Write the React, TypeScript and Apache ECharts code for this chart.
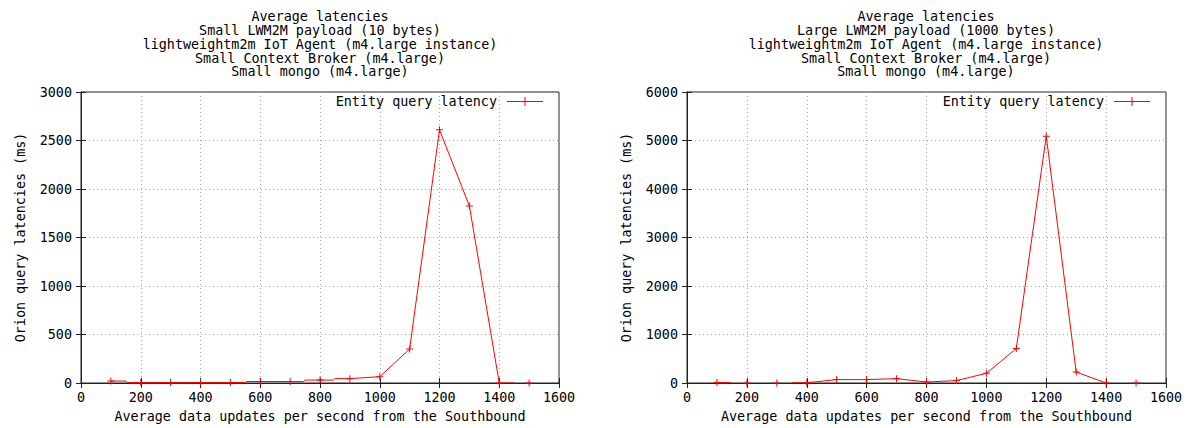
import React, { useEffect, useRef } from "react";
import * as echarts from "echarts";

const FONT = "'DejaVu Sans Mono', 'Liberation Mono', monospace";
const FONT_SIZE = 13.4;

const smallTitle = [
  "Average latencies",
  "Small LWM2M payload (10 bytes)",
  "lightweightm2m IoT Agent (m4.large instance)",
  "Small Context Broker (m4.large)",
  "Small mongo (m4.large)",
];
const largeTitle = [
  "Average latencies",
  "Large LWM2M payload (1000 bytes)",
  "lightweightm2m IoT Agent (m4.large instance)",
  "Small Context Broker (m4.large)",
  "Small mongo (m4.large)",
];

const seriesName = "Entity query latency";
const xAxisTitle = "Average data updates per second from the Southbound";
const yAxisTitle = "Orion query latencies (ms)";

// Axis ranges and tick steps
const xMin = 0;
const xMax = 1600;
const xStep = 200;
const smallYMax = 3000;
const smallYStep = 500;
const largeYMax = 6000;
const largeYStep = 1000;

// Small payload run. null breaks the line; marked points get a "+" symbol.
const smallX = [100, 150, 155, 200, 300, 400, 500, 550, 555, 600, 700, 745, 750, 800, 845, 850, 900, 1000, 1100, 1200, 1300, 1400, 1450, 1475, 1500];
const smallY = [20, 20, 5, 5, 5, 5, 5, 5, 15, 15, 15, 15, 30, 30, 30, 45, 45, 65, 350, 2610, 1825, 0, 0, null, 0];
const smallMarked = [1, 0, 0, 1, 1, 1, 1, 0, 0, 1, 1, 0, 0, 1, 0, 0, 1, 1, 1, 1, 1, 1, 0, 0, 1];

// Large payload run.
const largeX = [100, 145, 170, 200, 250, 300, 325, 350, 400, 500, 600, 700, 800, 900, 1000, 1100, 1200, 1300, 1400, 1450, 1500];
const largeY = [10, 10, null, 0, null, 0, null, 5, 5, 70, 70, 90, 20, 50, 200, 710, 5090, 225, 0, null, 0];
const largeMarked = [1, 0, 0, 1, 0, 1, 0, 0, 1, 1, 1, 1, 1, 1, 1, 1, 1, 1, 1, 0, 1];

const PLUS = "path://M0,3h7v1H0z M3,0h1v7H3z";
const LEGEND_ICON = "path://M0,4h36v1H0z M17.5,0h1v9h-1z";
const RED = "#ff0000";
const FRAME = "#222";

function toData(xs: number[], ys: (number | null)[], marked: number[]) {
  return xs.map((x, i) =>
    ys[i] === null
      ? [x, "-"]
      : { value: [x, ys[i]], symbol: marked[i] ? PLUS : "none" }
  );
}

const textStyle = { fontFamily: FONT, fontSize: FONT_SIZE, color: "#000", fontWeight: "normal" as const };
const plain = (v: number) => String(v);

function xAxes(gridIndex: number) {
  return [
    {
      type: "value",
      gridIndex,
      position: "bottom",
      min: xMin,
      max: xMax,
      interval: xStep,
      name: xAxisTitle,
      nameLocation: "middle",
      nameGap: 27,
      nameTextStyle: textStyle,
      axisLine: { show: true, lineStyle: { color: FRAME, width: 1 } },
      axisTick: { show: true, inside: true, length: 5, lineStyle: { color: FRAME } },
      axisLabel: { margin: 8, formatter: plain, ...textStyle },
      splitLine: { show: true, lineStyle: { color: "#a0a0a0", type: [1, 3], width: 1 } },
    },
    {
      type: "value",
      gridIndex,
      position: "top",
      min: xMin,
      max: xMax,
      interval: xStep,
      axisLine: { show: true, lineStyle: { color: FRAME, width: 1 } },
      axisTick: { show: true, inside: true, length: 5, lineStyle: { color: FRAME } },
      axisLabel: { show: false },
      splitLine: { show: false },
    },
  ];
}

function yAxes(gridIndex: number, yMax: number, yStep: number) {
  return [
    {
      type: "value",
      gridIndex,
      position: "left",
      min: 0,
      max: yMax,
      interval: yStep,
      name: yAxisTitle,
      nameLocation: "middle",
      nameGap: 54,
      nameTextStyle: textStyle,
      axisLine: { show: true, lineStyle: { color: FRAME, width: 1 } },
      axisTick: { show: true, inside: true, length: 5, lineStyle: { color: FRAME } },
      axisLabel: { margin: 9, formatter: plain, ...textStyle },
      splitLine: { show: true, lineStyle: { color: "#a0a0a0", type: [1, 3], width: 1 } },
    },
    {
      type: "value",
      gridIndex,
      position: "right",
      min: 0,
      max: yMax,
      interval: yStep,
      axisLine: { show: true, lineStyle: { color: FRAME, width: 1 } },
      axisTick: { show: true, inside: true, length: 5, lineStyle: { color: FRAME } },
      axisLabel: { show: false },
      splitLine: { show: false },
    },
  ];
}

function legendFor(right: number) {
  return {
    data: [seriesName],
    right,
    top: 95,
    align: "right",
    icon: LEGEND_ICON,
    itemWidth: 36,
    itemHeight: 9,
    padding: 0,
    selectedMode: false,
    textStyle: { ...textStyle, padding: [0, 5, 0, 0] },
  };
}

function lineSeries(xIdx: number, yIdx: number, data: any[]) {
  return {
    type: "line",
    name: seriesName,
    xAxisIndex: xIdx,
    yAxisIndex: yIdx,
    data,
    color: RED,
    symbolSize: 7,
    showSymbol: true,
    showAllSymbol: true,
    connectNulls: false,
    lineStyle: { color: RED, width: 1 },
    itemStyle: { color: RED },
  };
}

export default function App() {
  const ref = useRef<HTMLDivElement>(null);

  useEffect(() => {
    if (!ref.current) return;
    const chart = echarts.init(ref.current, undefined, { renderer: "svg" });
    chart.setOption({
      animation: false,
      backgroundColor: "#fff",
      title: [
        {
          text: smallTitle.join("\n"),
          left: 320,
          top: 10,
          textAlign: "center",
          padding: 0,
          textStyle: { ...textStyle, lineHeight: 13.75 },
        },
        {
          text: largeTitle.join("\n"),
          left: 926,
          top: 10,
          textAlign: "center",
          padding: 0,
          textStyle: { ...textStyle, lineHeight: 13.75 },
        },
      ],
      legend: [legendFor(655), legendFor(48)],
      grid: [
        { left: 81, top: 92, width: 478, height: 293, show: true, borderColor: FRAME, borderWidth: 1 },
        { left: 687, top: 92, width: 479, height: 293, show: true, borderColor: FRAME, borderWidth: 1 },
      ],
      xAxis: [...xAxes(0), ...xAxes(1)],
      yAxis: [...yAxes(0, smallYMax, smallYStep), ...yAxes(1, largeYMax, largeYStep)],
      series: [
        lineSeries(0, 0, toData(smallX, smallY, smallMarked)),
        lineSeries(2, 2, toData(largeX, largeY, largeMarked)),
      ],
    });
    return () => chart.dispose();
  }, []);

  return (
    <div
      ref={ref}
      style={{ position: "absolute", left: 0, top: 0, width: 1198, height: 428, background: "#fff" }}
    />
  );
}
